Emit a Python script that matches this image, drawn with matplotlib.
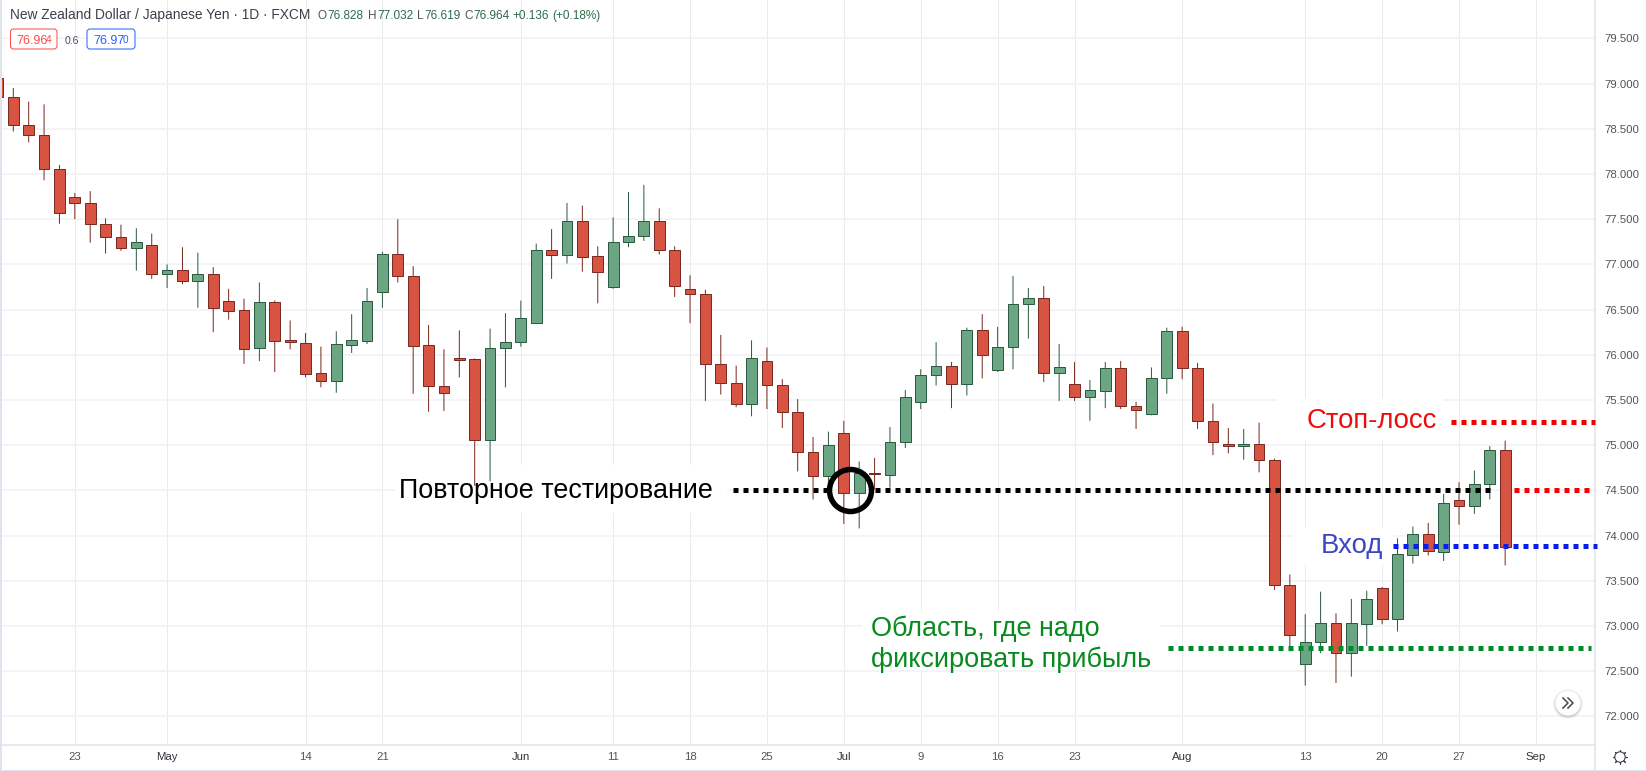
import numpy as np
import matplotlib
matplotlib.use("Agg")
import matplotlib.pyplot as plt
from matplotlib.patches import Rectangle, FancyBboxPatch, Circle
from matplotlib.ticker import FormatStrFormatter

plt.rcParams['font.family'] = ['Liberation Sans', 'DejaVu Sans']

# ---------- data ----------
candle_index = list(range(-1, 98))
opens = [79.06,
 78.85,78.54,78.43,78.05,77.75,77.68,77.45,77.30,77.18,77.22,
 76.89,76.94,76.82,76.89,76.60,76.50,76.07,76.58,76.16,76.13,
 75.80,75.71,76.11,76.15,76.69,77.12,76.87,76.11,75.66,75.97,
 75.95,75.06,76.07,76.14,76.35,77.16,77.10,77.48,77.09,76.75,
 77.25,77.31,77.48,77.16,76.73,76.67,75.90,75.69,75.46,75.93,
 75.67,75.37,74.92,74.66,75.13,74.47,74.69,74.67,75.04,75.48,
 75.78,75.88,75.68,76.27,75.83,76.09,76.56,76.63,75.80,75.68,
 75.53,75.60,75.85,75.43,75.34,75.74,76.26,75.85,75.27,75.01,
 74.99,75.01,74.84,73.45,72.58,72.82,73.03,72.70,73.02,73.42,
 73.08,73.79,74.02,73.82,74.39,74.33,74.57,74.95]
closes = [78.85,
 78.54,78.43,78.05,77.57,77.68,77.45,77.30,77.18,77.25,76.89,
 76.94,76.82,76.89,76.52,76.49,76.06,76.58,76.15,76.14,75.79,
 75.71,76.12,76.16,76.59,77.12,76.87,76.10,75.65,75.58,75.94,
 75.06,76.08,76.14,76.41,77.16,77.10,77.48,77.08,76.92,77.25,
 77.31,77.48,77.16,76.76,76.67,75.90,75.69,75.46,75.96,75.67,
 75.37,74.92,74.66,75.00,74.47,74.69,74.68,75.04,75.53,75.78,
 75.88,75.68,76.27,76.00,76.09,76.56,76.63,75.80,75.87,75.53,
 75.61,75.85,75.43,75.39,75.74,76.26,75.85,75.27,75.03,74.99,
 75.01,74.84,73.45,72.90,72.82,73.03,72.70,73.03,73.30,73.08,
 73.80,74.02,73.83,74.36,74.33,74.57,74.95,73.87]
highs = [79.06,
 78.95,78.80,78.77,78.10,77.79,77.81,77.51,77.44,77.40,77.34,
 77.00,77.19,77.13,76.97,76.73,76.62,76.80,76.60,76.38,76.24,
 76.09,76.26,76.45,76.74,77.14,77.50,76.98,76.33,76.06,76.27,
 75.96,76.29,76.46,76.60,77.23,77.39,77.68,77.65,77.20,77.52,
 77.80,77.88,77.62,77.20,76.88,76.72,76.22,75.88,76.16,76.08,
 75.73,75.51,75.09,75.15,75.27,74.82,74.86,75.20,75.61,75.84,
 76.14,75.92,76.30,76.45,76.31,76.87,76.74,76.76,76.12,75.92,
 75.72,75.92,75.93,75.48,75.86,76.30,76.31,75.91,75.46,75.19,
 75.18,75.25,74.85,73.57,73.13,73.38,73.14,73.30,73.39,73.43,
 73.97,74.10,74.14,74.46,74.59,74.72,74.99,75.05]
lows = [78.85,
 78.47,78.35,77.93,77.45,77.50,77.24,77.12,77.15,76.93,76.84,
 76.74,76.78,76.52,76.25,76.39,75.90,75.93,75.81,76.06,75.75,
 75.64,75.58,76.02,76.12,76.52,76.80,75.57,75.37,75.38,75.75,
 74.55,74.60,75.64,76.09,76.35,76.84,77.01,76.92,76.57,76.73,
 77.19,77.26,77.11,76.64,76.35,75.49,75.56,75.42,75.32,75.40,
 75.19,74.71,74.40,74.51,74.13,74.08,74.51,74.53,74.97,75.40,
 75.66,75.41,75.55,75.74,75.81,75.84,76.18,75.70,75.49,75.49,
 75.27,75.41,75.40,75.18,75.33,75.57,75.73,75.18,74.89,74.91,
 74.84,74.70,73.40,72.72,72.34,72.70,72.37,72.44,72.78,73.02,
 72.94,73.69,73.78,73.72,74.12,74.24,74.40,73.67]

y_ticks = [72.0,72.5,73.0,73.5,74.0,74.5,75.0,75.5,76.0,76.5,77.0,77.5,78.0,78.5,79.0,79.5]
x_tick_index = [4,10,19,24,33,39,44,49,54,59,64,69,76,84,89,94,99]
x_tick_labels = ['23','May','14','21','Jun','11','18','25','Jul','9','16','23','Aug','13','20','27','Sep']
month_labels = {'May','Jun','Jul','Aug','Sep'}

retest_level = 74.50
stop_level = 75.257
entry_level = 73.88
target_level = 72.76

# ---------- figure ----------
W, H = 1646, 771
px = 0.72
fig = plt.figure(figsize=(W/100, H/100), dpi=100, facecolor='white')
AX_L, AX_R, AX_B = 2, 1595, 745
ax = fig.add_axes([AX_L/W, (H-AX_B)/H, (AX_R-AX_L)/W, AX_B/H], zorder=1)
ov = fig.add_axes([0, 0, 1, 1], zorder=2)
ov.set_xlim(0, W); ov.set_ylim(H, 0); ov.axis('off'); ov.patch.set_alpha(0)

ax.set_xlim((AX_L-13.3)/15.38, (AX_R-13.3)/15.38)
ax.set_ylim(75.5-(AX_B-400)/90.4, 75.5+400/90.4)

GRID_H, GRID_V = '#F1F2F6', '#E9EBEF'
AXIS = '#E0E3EB'
TXT = '#50535E'
for s in ('top','left'):
    ax.spines[s].set_visible(False)
for s in ('bottom','right'):
    ax.spines[s].set_color(AXIS); ax.spines[s].set_linewidth(1.5*px)

ax.yaxis.tick_right()
ax.set_yticks(y_ticks)
ax.yaxis.set_major_formatter(FormatStrFormatter('%.3f'))
ax.tick_params(axis='y', length=0, pad=6.6, labelsize=8.2, labelcolor=TXT)
ax.set_xticks(x_tick_index)
ax.set_xticklabels(x_tick_labels)
ax.tick_params(axis='x', length=0, pad=5.2, labelsize=8.2, labelcolor=TXT)
for t, s in zip(ax.get_xticklabels(), x_tick_labels):
    if s in month_labels:
        t.set_color('#30333C')
ax.set_axisbelow(True)
ax.grid(True, axis='y', color=GRID_H, lw=1.6*px)
ax.grid(True, axis='x', color=GRID_V, lw=1.0*px)

# white patches behind the pasted captions
for (x0, x1, y0, y1) in [(395,727,465,513),(1277,1443,398,440),(1293,1393,527,565),(862,1160,612,670)]:
    ax.add_patch(Rectangle((x0,y0), x1-x0, y1-y0, transform=ov.transData, fc='white', ec='none', zorder=1))

# candles
UP_F, UP_E = '#6BA583', '#2B5C42'
DN_F, DN_E = '#D75442', '#7A2A20'
o, c, hi, lo = map(np.array, (opens, closes, highs, lows))
xs = np.array(candle_index, dtype=float)
up = c >= o
wicks = ax.vlines(xs, lo, hi, colors=[UP_E if u else DN_E for u in up], lw=1.0*px, zorder=2.5)
wicks.set_snap(False)
ax.bar(xs, np.abs(c-o), bottom=np.minimum(o,c), width=0.70,
       color=[UP_F if u else DN_F for u in up],
       edgecolor=[UP_E if u else DN_E for u in up], linewidth=1.0*px, zorder=3)

# dotted levels
DOT = dict(ls=(0,(1,1)), lw=5*px, solid_capstyle='butt', dash_capstyle='butt', zorder=4, clip_on=False)
ax.plot([46.8,52.97],[retest_level]*2, color='black', **DOT)
ax.plot([56.0,96.34],[retest_level]*2, color='black', **DOT)
ax.plot([97.6,102.45],[retest_level]*2, color='#F40000', **DOT)
ax.plot([93.5,102.84],[stop_level]*2, color='#F40000', **DOT)
ax.plot([89.7,103.0],[entry_level]*2, color='#0A1EEB', **DOT)
ax.plot([75.1,102.6],[target_level]*2, color='#008A2A', **DOT)
ax.plot([54.4],[retest_level+0.005], marker='o', ms=42*px, mfc='none', mec='black', mew=5.5*px, zorder=6)

# captions
CAP = dict(ha='left', va='baseline', zorder=5)
ov.text(399, 498, 'Повторное тестирование', color='black', fontsize=26.9*px, **CAP)
ov.text(1307, 428, 'Стоп-лосс', color='#F00A0A', fontsize=27.5*px, **CAP)
ov.text(1321, 553, 'Вход', color='#3A48C8', fontsize=27.5*px, **CAP)
ov.text(871, 636, 'Область, где надо', color='#078A1E', fontsize=27*px, **CAP)
ov.text(871, 667, 'фиксировать прибыль', color='#078A1E', fontsize=27*px, **CAP)

# header
ov.text(10.5, 19, 'New Zealand Dollar / Japanese Yen · 1D · FXCM', fontsize=13.8*px, color='#3C3F4A', ha='left', va='baseline')
GREEN = '#2E6B4A'
for xp, s, col in [(318,'O',TXT),(327,'76.828',GREEN),(368,'H',TXT),(377,'77.032',GREEN),(417,'L',TXT),
                   (424,'76.619',GREEN),(464,'C',TXT),(473,'76.964',GREEN),(512,'+0.136',GREEN),(552,'(+0.18%)',GREEN)]:
    ov.text(xp, 19, s, fontsize=11.8*px, color=col, ha='left', va='baseline')

# price badges
for x0, x1, col, s, last in [(10.5,57,'#FF4A4A','76.96','4'),(87,135,'#2962FF','76.97','0')]:
    ov.add_patch(FancyBboxPatch((x0+2,31),x1-x0-4,16, boxstyle='round,pad=2,rounding_size=3',
                                fc='white', ec=col, lw=1*px))
    ov.text(x0+6, 44.5, s, fontsize=12.5*px, color=col, ha='left', va='baseline')
    ov.text(x0+35.5, 43, last, fontsize=10*px, color=col, ha='left', va='baseline')
ov.text(65, 44, '0.6', fontsize=10.5*px, color=TXT, ha='left', va='baseline')

# frame strips
ov.add_patch(Rectangle((0,0),2,H, fc=AXIS, ec='none'))
ov.add_patch(Rectangle((0,H-1.5),W,1.5, fc=AXIS, ec='none'))
ov.plot([AX_R,AX_R],[AX_B,H], color=AXIS, lw=1.5*px)

# scroll button
bx, by = 1568, 703
for r, a in [(15,0.04),(14,0.06),(13,0.08)]:
    ov.add_patch(Circle((bx,by+1),r, fc='black', ec='none', alpha=a))
ov.add_patch(Circle((bx,by),12.5, fc='white', ec='none'))
for dx in (-5,0):
    ov.plot([bx+dx,bx+dx+5,bx+dx],[by-5,by,by+5], color='#4A4E59', lw=1.6*px)

# settings icon
gx, gy = 1620, 757
ov.plot([gx],[gy], marker=(8,2,0), ms=15*px, mew=1.1*px, color='#3C3F4A')
ov.add_patch(Circle((gx,gy),5.2, fc='white', ec='#3C3F4A', lw=1.1*px, zorder=5))

fig.savefig('out.png', dpi=100)
